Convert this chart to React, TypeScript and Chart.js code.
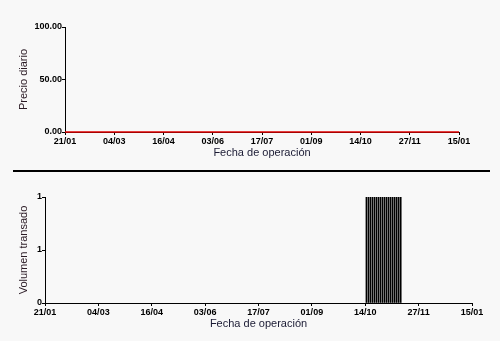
import React, { useEffect, useRef } from "react";
import { Chart, registerables } from "chart.js";

Chart.register(...registerables);

// Tick labels along the date axis (evenly spaced every 45 days)
const dateTickLabels = ["21/01", "04/03", "16/04", "03/06", "17/07", "01/09", "14/10", "27/11", "15/01"];
const tickStepDays = 45;
const axisMaxDays = 360;

// Daily price series (days from 21/01) -- all zero
const priceDays = [0, 45, 90, 135, 180, 225, 270, 315, 360];
const priceValues = [0, 0, 0, 0, 0, 0, 0, 0, 0];

// Volume series (days from 21/01)
const volumeDays = [271.0, 272.7, 274.4, 276.1, 277.8, 279.5, 281.2, 282.9, 284.6, 286.3, 288.0, 289.7, 291.4, 293.1, 294.8, 296.5, 298.2, 299.9];
const volumeValues = [1, 1, 1, 1, 1, 1, 1, 1, 1, 1, 1, 1, 1, 1, 1, 1, 1, 1];

const FONT = "'Liberation Sans', Arial, sans-serif";

function xAxis(): any {
  return {
    type: "linear",
    min: 0,
    max: axisMaxDays,
    offset: false,
    afterFit: (s: any) => { s.height = 38; },
    border: { color: "#000", width: 1 },
    grid: { offset: false, drawOnChartArea: false, drawTicks: true, tickLength: 3, color: "#000" },
    ticks: {
      stepSize: tickStepDays,
      autoSkip: false,
      maxRotation: 0,
      padding: 1,
      color: "#000",
      font: { family: FONT, size: 9, weight: "bold" },
      callback: (v: any) => dateTickLabels[Math.round(Number(v) / tickStepDays)] ?? "",
    },
    title: {
      display: true,
      text: "Fecha de operación",
      color: "#1a1a33",
      font: { family: FONT, size: 11 },
      padding: { top: 0, bottom: 10 },
    },
  };
}

function yAxis(width: number, title: string, max: number, step: number, fmt: (v: number) => string): any {
  return {
    min: 0,
    max,
    afterFit: (s: any) => { s.width = width; },
    border: { color: "#000", width: 1 },
    grid: { drawOnChartArea: false, drawTicks: true, tickLength: 3, color: "#000" },
    ticks: {
      stepSize: step,
      padding: 0,
      color: "#000",
      font: { family: FONT, size: 9, weight: "bold" },
      callback: (v: any) => fmt(Number(v)),
    },
    title: {
      display: true,
      text: title,
      color: "#2a1a24",
      font: { family: FONT, size: 11 },
      padding: { top: 17, bottom: 0 },
    },
  };
}

function PriceChart() {
  const ref = useRef<HTMLCanvasElement>(null);
  useEffect(() => {
    const chart = new Chart(ref.current!, {
      type: "line",
      data: {
        datasets: [
          {
            data: priceDays.map((d, i) => ({ x: d, y: priceValues[i] })),
            borderColor: "#e00000",
            borderWidth: 1.5,
            pointRadius: 0,
            fill: false,
            clip: false,
          },
        ],
      },
      options: {
        animation: false,
        responsive: false,
        devicePixelRatio: 1,
        layout: { padding: { left: 0, right: 41, top: 27, bottom: 0 } },
        plugins: { legend: { display: false }, tooltip: { enabled: false } },
        scales: {
          x: xAxis(),
          y: yAxis(65, "Precio diario", 100, 50, (v) => v.toFixed(2)),
        },
      } as any,
    });
    return () => chart.destroy();
  }, []);
  return <canvas ref={ref} width={500} height={170} style={{ position: "absolute", left: 0, top: 0, display: "block" }} />;
}

function VolumeChart() {
  const ref = useRef<HTMLCanvasElement>(null);
  useEffect(() => {
    const chart = new Chart(ref.current!, {
      type: "bar",
      data: {
        datasets: [
          {
            data: volumeDays.map((d, i) => ({ x: d, y: volumeValues[i] })),
            backgroundColor: "#000",
            borderWidth: 0,
            barThickness: 1,
          },
        ],
      },
      options: {
        animation: false,
        responsive: false,
        devicePixelRatio: 1,
        layout: { padding: { left: 0, right: 28, top: 27, bottom: 0 } },
        plugins: { legend: { display: false }, tooltip: { enabled: false } },
        scales: {
          x: xAxis(),
          y: yAxis(45, "Volumen transado", 1, 0.5, (v) => v.toFixed(0)),
        },
      } as any,
    });
    return () => chart.destroy();
  }, []);
  return <canvas ref={ref} width={500} height={171} style={{ position: "absolute", left: 0, top: 170, display: "block" }} />;
}

export default function App() {
  return (
    <div style={{ position: "absolute", left: 0, top: 0, width: 500, height: 341, background: "#f8f8f8", overflow: "hidden" }}>
      <PriceChart />
      <VolumeChart />
      <div style={{ position: "absolute", left: 13, top: 170, width: 477, height: 2, background: "#000" }} />
    </div>
  );
}
